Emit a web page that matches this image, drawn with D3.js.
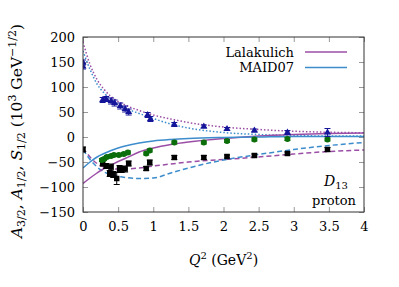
<!DOCTYPE html>
<html>
<head>
<meta charset="utf-8">
<script src="https://cdn.jsdelivr.net/npm/d3@7"></script>
<style>
  body { margin: 0; background: #fff; }
</style>
</head>
<body>
<script>
// model curves, Q2 grid shared
const curveQ2 = [0, 0.1, 0.2, 0.3, 0.4, 0.5, 0.6, 0.8, 1.0, 1.25, 1.5, 2.0, 2.5, 3.0, 3.5, 4.0];
const lalaS12 = [190, 145, 115, 95, 81, 71, 64, 53, 44, 36, 29, 20, 15, 11.5, 9.5, 8.5];
const lalaA12 = [-93, -82, -72, -63, -56, -49, -43, -30, -22, -15, -10, -3, 2, 5, 7, 8];
const lalaA32 = [-22, -40, -53, -60, -63, -64, -64, -62, -58, -54, -50, -45, -40, -34, -29, -26];
const maidS12 = [172, 135, 106, 88, 75, 66, 58, 47, 37, 26, 18, 9, 5, 3, 2, 2];
const maidA12 = [-62, -50, -40, -33, -27, -22, -18, -12, -8, -5, -3, -1, 0, 1, 1, 1];
const maidA32 = [-25, -45, -60, -70, -76, -79, -81, -83, -82, -72, -62, -46, -35, -25, -17, -11];

// data points
const s12Q2 = [0, 0, 0.28, 0.33, 0.40, 0.45, 0.53, 0.60, 0.65, 0.92, 0.96, 1.30, 1.72, 2.05, 2.44, 2.91, 3.48];
const s12Val = [149, 141, 74, 76, 72, 68, 62, 56, 50, 44, 36, 25, 21, 16, 13, 9, 9];
const s12Err = [5, 5, 5, 5, 6, 6, 6, 6, 6, 5, 5, 4, 3, 3, 3, 4, 8];

const a12Q2 = [0.27, 0.30, 0.34, 0.40, 0.44, 0.51, 0.58, 0.64, 0.90, 0.95, 1.30, 1.72, 2.05, 2.44, 2.91, 3.48];
const a12Val = [-46, -44, -40, -38, -36, -36, -34, -31, -33, -27, -11, -11, -8, -5, -4, -5];
const a12Err = [3, 3, 3, 3, 3, 3, 3, 3, 3, 3, 3, 3, 3, 3, 3, 3];

const a32Q2 = [0, 0.28, 0.33, 0.38, 0.40, 0.43, 0.48, 0.52, 0.55, 0.60, 0.65, 0.90, 0.95, 1.30, 1.72, 2.05, 2.44, 2.91, 3.48];
const a32Val = [-25, -53, -58, -73, -60, -75, -83, -63, -65, -64, -53, -63, -51, -41, -41, -39, -37, -33, -25];
const a32Err = [5, 5, 5, 6, 6, 6, 12, 6, 6, 6, 5, 4, 5, 4, 4, 3, 3, 3, 4];

const xTicks = [0, 0.5, 1, 1.5, 2, 2.5, 3, 3.5, 4];
const yTicks = [-150, -100, -50, 0, 50, 100, 150, 200];

const purple = "#9b4ea6", blue = "#3d8ccc";
const serif = "'DejaVu Serif', 'Liberation Serif', 'Noto Serif', serif";

const W = 399, H = 287;
const svg = d3.select("body").append("svg").attr("width", W).attr("height", H)
  .style("font-family", serif);

const margin = { top: 37, right: 35, bottom: 75, left: 83 };
const width = W - margin.left - margin.right;
const height = H - margin.top - margin.bottom;

const x = d3.scaleLinear().domain([0, 4]).range([0, width]);
const y = d3.scaleLinear().domain([-150, 200]).range([height, 0]);

const g = svg.append("g").attr("transform", `translate(${margin.left},${margin.top})`);

g.append("clipPath").attr("id", "clip")
  .append("rect").attr("width", width).attr("height", height);

// inward ticks on all four sides
const tickCol = "#999";
function ticks(axis, tr) {
  const a = g.append("g").attr("transform", tr).call(axis);
  a.attr("font-family", null);
  a.select(".domain").remove();
  a.selectAll("line").attr("stroke", tickCol).attr("stroke-width", 1);
  a.selectAll("text").attr("font-size", 13).attr("fill", "#000").style("font-family", serif);
  return a;
}
ticks(d3.axisBottom(x).tickValues(xTicks).tickSize(-5).tickPadding(10).tickFormat(d => d), `translate(0,${height})`);
ticks(d3.axisTop(x).tickValues(xTicks).tickSize(-5).tickFormat(""), "translate(0,0)");
ticks(d3.axisLeft(y).tickValues(yTicks).tickSize(-5).tickPadding(8).tickFormat(d => d < 0 ? "\u2212" + (-d) : d), "translate(0,0)");
ticks(d3.axisRight(y).tickValues(yTicks).tickSize(-5).tickFormat(""), `translate(${width},0)`);

// models
const plot = g.append("g").attr("clip-path", "url(#clip)");
const line = d3.line().x(d => x(d[0])).y(d => y(d[1])).curve(d3.curveMonotoneX);
function model(vals, color, dash) {
  plot.append("path")
    .datum(curveQ2.map((q, i) => [q, vals[i]]))
    .attr("fill", "none").attr("stroke", color).attr("stroke-width", 1.5)
    .attr("stroke-dasharray", dash).attr("d", line);
}
model(lalaS12, purple, "1.5,2");
model(maidS12, blue, "1.5,2");
model(lalaA32, purple, "5,3");
model(maidA32, blue, "5,3");
model(lalaA12, purple, null);
model(maidA12, blue, null);

// data with error bars
function points(qs, vals, errs, color, shape, size) {
  const pts = qs.map((q, i) => ({ q: q, v: vals[i], e: errs[i] }));
  const eg = plot.append("g").attr("stroke", color).attr("stroke-width", 1);
  pts.forEach(p => {
    const px = x(p.q);
    eg.append("line").attr("x1", px).attr("x2", px).attr("y1", y(p.v - p.e)).attr("y2", y(p.v + p.e));
    eg.append("line").attr("x1", px - 3).attr("x2", px + 3).attr("y1", y(p.v - p.e)).attr("y2", y(p.v - p.e));
    eg.append("line").attr("x1", px - 3).attr("x2", px + 3).attr("y1", y(p.v + p.e)).attr("y2", y(p.v + p.e));
  });
  plot.append("g").selectAll("path").data(pts).join("path")
    .attr("transform", d => `translate(${x(d.q)},${y(d.v)})`)
    .attr("d", d3.symbol().type(shape).size(size))
    .attr("fill", color);
}
points(a32Q2, a32Val, a32Err, "#000", d3.symbolSquare, 30);
points(a12Q2, a12Val, a12Err, "#0b6e0b", d3.symbolCircle, 28);
points(s12Q2, s12Val, s12Err, "#15159a", d3.symbolTriangle, 22);

// frame
g.append("rect").attr("width", width).attr("height", height)
  .attr("fill", "none").attr("stroke", "#333").attr("stroke-width", 1);

// legend
const legend = [["Lalakulich", purple], ["MAID07", blue]];
legend.forEach((d, i) => {
  const ly = 15 + i * 15.5;
  g.append("text").attr("x", 211).attr("y", ly).attr("dy", "0.35em")
    .attr("text-anchor", "end").attr("font-size", 13).text(d[0]);
  g.append("line").attr("x1", 222).attr("x2", 264).attr("y1", ly).attr("y2", ly)
    .attr("stroke", d[1]).attr("stroke-width", 1.5);
});

// resonance label
const lab = g.append("text").attr("x", 253).attr("y", 149).attr("font-size", 14).attr("text-anchor", "middle");
lab.append("tspan").attr("font-style", "italic").text("D");
lab.append("tspan").attr("font-size", 10).attr("dy", 3).text("13");
g.append("text").attr("x", 251).attr("y", 168).attr("font-size", 13).attr("text-anchor", "middle").text("proton");

// x label
const xl = svg.append("text").attr("x", margin.left + width / 2).attr("y", 265)
  .attr("text-anchor", "middle").attr("font-size", 14);
xl.append("tspan").attr("font-style", "italic").text("Q");
xl.append("tspan").attr("font-size", 10).attr("dy", -6).text("2");
xl.append("tspan").attr("dy", 6).text(" (GeV");
xl.append("tspan").attr("font-size", 10).attr("dy", -6).text("2");
xl.append("tspan").attr("dy", 6).text(")");

// y label
const ylab = svg.append("text").attr("transform", `translate(22,131) rotate(-90)`)
  .attr("text-anchor", "middle").attr("font-size", 15.5);
ylab.append("tspan").attr("font-style", "italic").text("A");
ylab.append("tspan").attr("font-size", 11).attr("dy", 3).text("3/2");
ylab.append("tspan").attr("dy", -3).text(", ");
ylab.append("tspan").attr("font-style", "italic").text("A");
ylab.append("tspan").attr("font-size", 11).attr("dy", 3).text("1/2");
ylab.append("tspan").attr("dy", -3).text(", ");
ylab.append("tspan").attr("font-style", "italic").text("S");
ylab.append("tspan").attr("font-size", 11).attr("dy", 3).text("1/2");
ylab.append("tspan").attr("dy", -3).text(" (10");
ylab.append("tspan").attr("font-size", 11).attr("dy", -6).text("3");
ylab.append("tspan").attr("dy", 6).text(" GeV");
ylab.append("tspan").attr("font-size", 11).attr("dy", -6).text("\u22121/2");
ylab.append("tspan").attr("dy", 6).text(")");
</script>
</body>
</html>
